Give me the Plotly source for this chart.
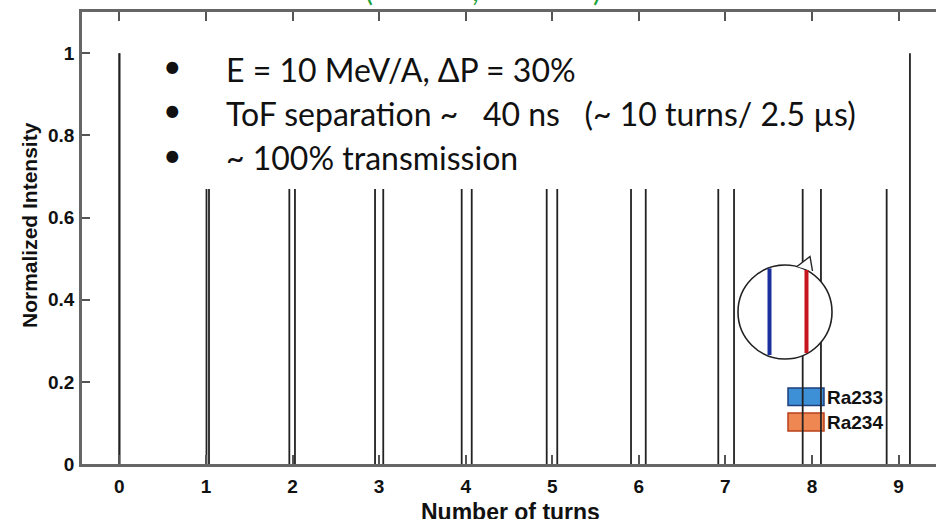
import plotly.graph_objects as go

# ---------------- data ----------------
turn_ticks = [0, 1, 2, 3, 4, 5, 6, 7, 8, 9]
y_tick_vals = [0, 0.2, 0.4, 0.6, 0.8, 1.0]
y_tick_text = ["0", "0.2", "0.4", "0.6", "0.8", "1"]

ra233_turn_pos = [0.0, 1.006, 1.963, 2.953, 3.954, 4.936, 5.910, 6.918, 7.893, 8.863]
ra234_turn_pos = [0.0, 1.035, 2.028, 3.048, 4.070, 5.058, 6.080, 7.100, 8.104, 9.132]
ra233_intensity = [1.0, 1.0, 1.0, 1.0, 1.0, 1.0, 1.0, 1.0, 1.0, 1.0]
ra234_intensity = [1.0, 1.0, 1.0, 1.0, 1.0, 1.0, 1.0, 1.0, 1.0, 1.0]

species = ["Ra233", "Ra234"]
species_fill = ["#3d8fd6", "#ef8752"]
species_edge = ["#1d3f7e", "#b8401c"]

bullet_lines = [
    "E = 10 MeV/A, \u0394P = 30%",
    "ToF separation ~\u00a0\u00a0\u00a040 ns\u00a0\u00a0\u00a0(~ 10 turns/ 2.5 \u00b5s)",
    "~ 100% transmission",
]

x_title = "Number of turns"
y_title = "Normalized Intensity"

# ---------------- geometry helpers (figure pixels -> paper) ----------------
W, H = 936, 519
L, R, T, B = 82, 936, 12, 464


def fx(px):
    return (px - L) / (R - L)


def fy(py):
    return (B - py) / (B - T)


def stems(xs, hs):
    X, Y = [], []
    for x, h in zip(xs, hs):
        X += [x, x, None]
        Y += [0, h, None]
    return X, Y


fig = go.Figure()
for name, xs, hs in [(species[0], ra233_turn_pos, ra233_intensity),
                     (species[1], ra234_turn_pos, ra234_intensity)]:
    X, Y = stems(xs, hs)
    fig.add_trace(go.Scatter(x=X, y=Y, mode="lines", name=name,
                             line=dict(color="#222222", width=1.8),
                             showlegend=False, hoverinfo="skip"))

tick_font = dict(family="Liberation Sans, Arial, sans-serif", size=19, color="#111",
                 weight="bold")

fig.update_layout(
    width=W, height=H,
    margin=dict(l=L, r=W - R, t=T, b=H - B),
    plot_bgcolor="white", paper_bgcolor="white",
    showlegend=False,
    xaxis=dict(range=[-0.432, 9.433], tickvals=turn_ticks,
               ticks="inside", ticklen=9, tickwidth=1.5, tickcolor="#555",
               showline=True, linewidth=2.5, linecolor="#666", mirror="ticks",
               showgrid=False, zeroline=False,
               tickfont=tick_font, ticklabelstandoff=3),
    yaxis=dict(range=[0, 1.1006], tickvals=y_tick_vals, ticktext=y_tick_text,
               ticks="inside", ticklen=8, tickwidth=1.5, tickcolor="#555",
               showline=True, linewidth=2.5, linecolor="#666",
               showgrid=False, zeroline=False,
               tickfont=tick_font, ticklabelstandoff=1),
)

shapes = []
# legend swatches (below the stems)
sw = [(388, 405.5), (413, 431)]
for (y0, y1), fc, ec in zip(sw, species_fill, species_edge):
    shapes.append(dict(type="rect", xref="paper", yref="paper", layer="below",
                       x0=fx(788), x1=fx(824), y0=fy(y1), y1=fy(y0),
                       fillcolor=fc, line=dict(color=ec, width=1.5)))

# white text panel
shapes.append(dict(type="rect", xref="paper", yref="paper", layer="above",
                   x0=fx(136), x1=fx(908), y0=fy(189), y1=fy(36),
                   fillcolor="white", line=dict(width=0)))

# magnifier bubble
cx, cy, r = 785, 312, 47
shapes.append(dict(type="circle", xref="paper", yref="paper", layer="above",
                   x0=fx(cx - r), x1=fx(cx + r), y0=fy(cy + r), y1=fy(cy - r),
                   fillcolor="white", line=dict(color="#222", width=1.6)))
shapes.append(dict(type="line", xref="paper", yref="paper", layer="above",
                   x0=fx(769.5), x1=fx(769.5), y0=fy(355), y1=fy(268.5),
                   line=dict(color="#1b2f9e", width=4)))
shapes.append(dict(type="line", xref="paper", yref="paper", layer="above",
                   x0=fx(806.5), x1=fx(806.5), y0=fy(353), y1=fy(270),
                   line=dict(color="#c8141c", width=4)))
tail = "M {:.5f},{:.5f} L {:.5f},{:.5f} L {:.5f},{:.5f}".format(
    fx(797), fy(266.5), fx(810), fy(256.5), fx(812.5), fy(271))
shapes.append(dict(type="path", xref="paper", yref="paper", layer="above",
                   path=tail, fillcolor="white", line=dict(color="#222", width=1.4)))

fig.update_layout(shapes=shapes)

ann = []
text_font = dict(family="Lato, Carlito, Calibri, sans-serif", size=32, color="#111")
line_mid = [69, 113.5, 158]

for t, ym in zip(bullet_lines, line_mid):
    ann.append(dict(xref="paper", yref="paper", x=fx(172), y=fy(ym - 4), text="\u2022",
                    showarrow=False, xanchor="center", yanchor="middle", font=text_font))
    ann.append(dict(xref="paper", yref="paper", x=fx(224), y=fy(ym), text=t,
                    showarrow=False, xanchor="left", yanchor="middle", font=text_font))

leg_font = dict(family="Liberation Sans, Arial, sans-serif", size=19, color="#111", weight="bold")
for name, ym in zip(species, [397, 422]):
    ann.append(dict(xref="paper", yref="paper", x=fx(825), y=fy(ym), text=name,
                    showarrow=False, xanchor="left", yanchor="middle", font=leg_font))

ann.append(dict(xref="paper", yref="paper", x=fx(510), y=fy(512), text=x_title,
                showarrow=False, xanchor="center", yanchor="middle",
                font=dict(family="Liberation Sans, Arial, sans-serif", size=23, color="#111",
                          weight="bold")))
ann.append(dict(xref="paper", yref="paper", x=fx(29), y=fy(225), text=y_title,
                showarrow=False, xanchor="center", yanchor="middle", textangle=-90,
                font=dict(family="Liberation Sans, Arial, sans-serif", size=21, color="#111",
                          weight="bold")))

# clipped green heading remnants at the very top
for ch, px in [("(", 369), (",", 475), (")", 597)]:
    ann.append(dict(xref="paper", yref="paper", x=fx(px), y=fy(9), text=ch,
                    showarrow=False, xanchor="center", yanchor="bottom",
                    font=dict(family="Lato, sans-serif", size=30, color="#1fa33a")))

fig.update_layout(annotations=ann)

fig.write_html("out.html", config={"displayModeBar": False},
               post_script="document.body.style.margin='0px';document.body.style.padding='0px';")
